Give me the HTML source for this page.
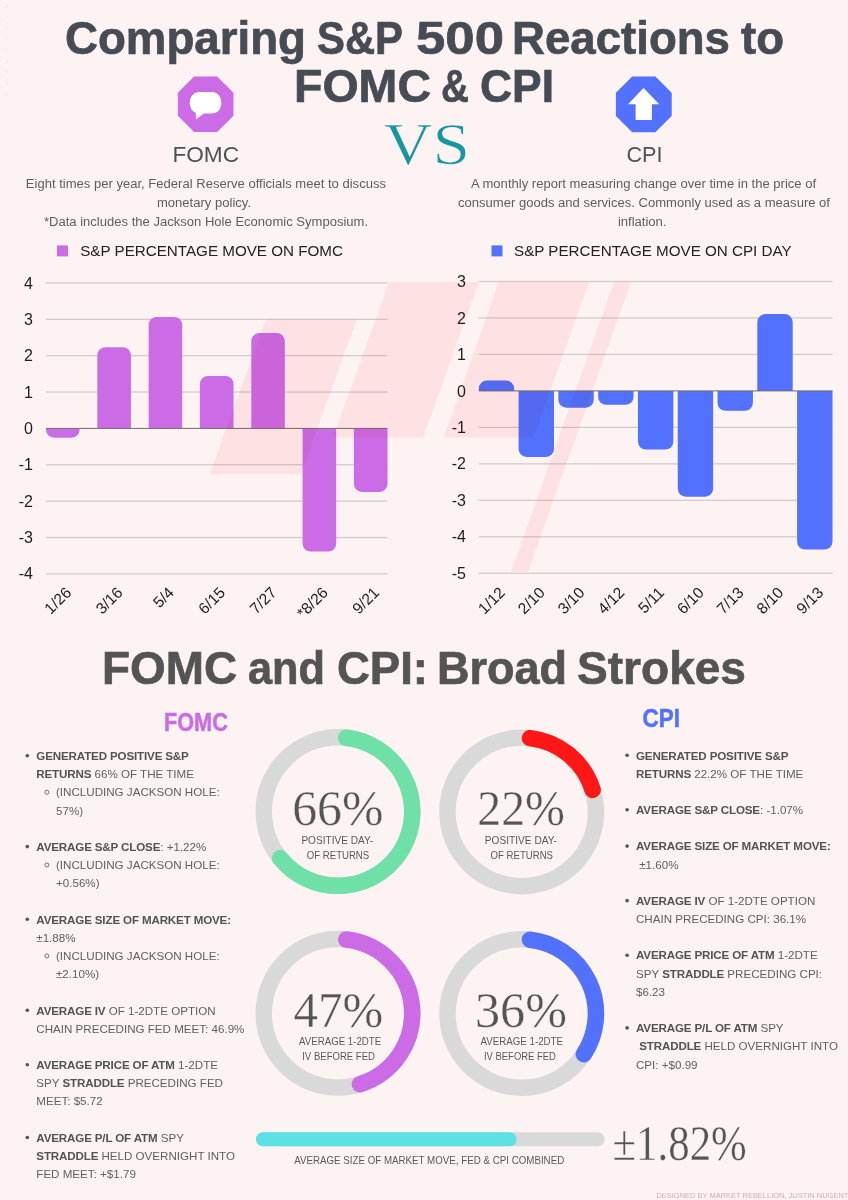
<!DOCTYPE html>
<html><head><meta charset="utf-8"><title>Comparing S&amp;P 500 Reactions to FOMC &amp; CPI</title>
<style>
html,body{margin:0;padding:0;background:#FDF3F2;}
body{width:848px;height:1200px;overflow:hidden;position:relative;font-family:"Liberation Sans",sans-serif;}
svg{position:absolute;left:0;top:0;display:block}
text{font-family:"Liberation Sans",sans-serif}
.serif{font-family:"Liberation Serif",serif}
</style></head><body>
<svg width="848" height="1200" viewBox="0 0 848 1200">
<rect width="848" height="1200" fill="#FDF3F2"/>

<text x="65.00" y="54.2" font-size="46.5" font-weight="700" fill="#474C54" stroke="#474C54" stroke-width="0.7" textLength="241.00" lengthAdjust="spacingAndGlyphs">Comparing</text>
<text x="317.00" y="54.2" font-size="46.5" font-weight="700" fill="#474C54" stroke="#474C54" stroke-width="0.7" textLength="86.00" lengthAdjust="spacingAndGlyphs">S&amp;P</text>
<text x="416.00" y="54.2" font-size="46.5" font-weight="700" fill="#474C54" stroke="#474C54" stroke-width="0.7" textLength="88.00" lengthAdjust="spacingAndGlyphs">500</text>
<text x="512.00" y="54.2" font-size="46.5" font-weight="700" fill="#474C54" stroke="#474C54" stroke-width="0.7" textLength="218.00" lengthAdjust="spacingAndGlyphs">Reactions</text>
<text x="741.00" y="54.2" font-size="46.5" font-weight="700" fill="#474C54" stroke="#474C54" stroke-width="0.7" textLength="43.00" lengthAdjust="spacingAndGlyphs">to</text>
<text x="294.00" y="102" font-size="46.5" font-weight="700" fill="#474C54" stroke="#474C54" stroke-width="0.7" textLength="137.00" lengthAdjust="spacingAndGlyphs">FOMC</text>
<text x="441.00" y="102" font-size="46.5" font-weight="700" fill="#474C54" stroke="#474C54" stroke-width="0.7" textLength="28.00" lengthAdjust="spacingAndGlyphs">&amp;</text>
<text x="480.00" y="102" font-size="46.5" font-weight="700" fill="#474C54" stroke="#474C54" stroke-width="0.7" textLength="74.00" lengthAdjust="spacingAndGlyphs">CPI</text>
<text x="102.00" y="684.4" font-size="46.5" font-weight="700" fill="#545454" stroke="#545454" stroke-width="0.7" textLength="135.00" lengthAdjust="spacingAndGlyphs">FOMC</text>
<text x="248.00" y="684.4" font-size="46.5" font-weight="700" fill="#545454" stroke="#545454" stroke-width="0.7" textLength="77.00" lengthAdjust="spacingAndGlyphs">and</text>
<text x="337.00" y="684.4" font-size="46.5" font-weight="700" fill="#545454" stroke="#545454" stroke-width="0.7" textLength="91.00" lengthAdjust="spacingAndGlyphs">CPI:</text>
<text x="437.00" y="684.4" font-size="46.5" font-weight="700" fill="#545454" stroke="#545454" stroke-width="0.7" textLength="130.00" lengthAdjust="spacingAndGlyphs">Broad</text>
<text x="577.00" y="684.4" font-size="46.5" font-weight="700" fill="#545454" stroke="#545454" stroke-width="0.7" textLength="169.00" lengthAdjust="spacingAndGlyphs">Strokes</text>
<polygon points="194.1,76.4 217.2,76.4 233.5,92.7 233.5,115.8 217.2,132.1 194.1,132.1 177.8,115.8 177.8,92.7" fill="#CB6CE6"/>
<path d="M199.5,92 H211.6 C217.5,92 221.3,96.6 221.3,102.8 C221.3,109 217.5,113.6 211.6,113.6 H199.5 C193.6,113.6 189.8,109 189.8,102.8 C189.8,96.6 193.6,92 199.5,92 Z" fill="#fff"/>
<polygon points="195.6,109 196,119.6 204.5,113" fill="#fff"/>
<polygon points="632.2,76.4 655.4,76.4 671.7,92.7 671.7,115.9 655.4,132.2 632.2,132.2 615.9,115.9 615.9,92.7" fill="#5271FF"/>
<polygon points="643.6,88 659.2,104.2 651.9,104.2 651.9,119.9 635.6,119.9 635.6,104.2 628,104.2" fill="#fff"/>
<text x="172.40" y="161.7" font-size="22.3" fill="#4D5157" textLength="66.60" lengthAdjust="spacingAndGlyphs">FOMC</text>
<text x="626.40" y="161.5" font-size="22.3" fill="#4D5157" textLength="36.00" lengthAdjust="spacingAndGlyphs">CPI</text>
<text class="serif" x="383.80" y="164.2" font-size="60" fill="#17969D" stroke="#FDF3F2" stroke-width="0.7" textLength="86.20" lengthAdjust="spacingAndGlyphs">VS</text>
<text x="205.9" y="188.1" text-anchor="middle" font-size="13.05" fill="#5E5E5E">Eight times per year, Federal Reserve officials meet to discuss</text>
<text x="204" y="206.8" text-anchor="middle" font-size="13.05" fill="#5E5E5E">monetary policy.</text>
<text x="206" y="225.6" text-anchor="middle" font-size="13.05" fill="#5E5E5E">*Data includes the Jackson Hole Economic Symposium.</text>
<text x="643.5" y="188.1" text-anchor="middle" font-size="13.05" fill="#5E5E5E">A monthly report measuring change over time in the price of</text>
<text x="644" y="206.8" text-anchor="middle" font-size="13.05" fill="#5E5E5E">consumer goods and services. Commonly used as a measure of</text>
<text x="642.2" y="225.6" text-anchor="middle" font-size="13.05" fill="#5E5E5E">inflation.</text>
<rect x="6" y="4.5" width="2" height="2" fill="#F5EBEB"/>
<rect x="6" y="15.6" width="2" height="2" fill="#F5EBEB"/>
<rect x="6" y="26.7" width="2" height="2" fill="#F5EBEB"/>
<rect x="6" y="37.8" width="2" height="2" fill="#F5EBEB"/>
<rect x="6" y="48.9" width="2" height="2" fill="#F5EBEB"/>
<rect x="6" y="60.0" width="2" height="2" fill="#F5EBEB"/>
<rect x="6" y="71.1" width="2" height="2" fill="#F5EBEB"/>
<rect x="6" y="82.2" width="2" height="2" fill="#F5EBEB"/>
<rect x="6" y="93.3" width="2" height="2" fill="#F5EBEB"/>
<rect x="57" y="245.4" width="11" height="11" fill="#CB6CE6"/>
<text x="80.2" y="256.1" font-size="15.2" fill="#222">S&amp;P PERCENTAGE MOVE ON FOMC</text>
<rect x="491.5" y="245.4" width="11" height="11" fill="#5271FF"/>
<text x="514" y="256.1" font-size="15.2" fill="#222">S&amp;P PERCENTAGE MOVE ON CPI DAY</text>
<rect x="46" y="573.28" width="341.5" height="1.2" fill="#CFC9C9"/>
<text x="33" y="579.48" text-anchor="end" font-size="16" fill="#1E1E1E">-4</text>
<rect x="46" y="536.91" width="341.5" height="1.2" fill="#CFC9C9"/>
<text x="33" y="543.11" text-anchor="end" font-size="16" fill="#1E1E1E">-3</text>
<rect x="46" y="500.54" width="341.5" height="1.2" fill="#CFC9C9"/>
<text x="33" y="506.74" text-anchor="end" font-size="16" fill="#1E1E1E">-2</text>
<rect x="46" y="464.17" width="341.5" height="1.2" fill="#CFC9C9"/>
<text x="33" y="470.37" text-anchor="end" font-size="16" fill="#1E1E1E">-1</text>
<text x="33" y="434.00" text-anchor="end" font-size="16" fill="#1E1E1E">0</text>
<rect x="46" y="391.43" width="341.5" height="1.2" fill="#CFC9C9"/>
<text x="33" y="397.63" text-anchor="end" font-size="16" fill="#1E1E1E">1</text>
<rect x="46" y="355.06" width="341.5" height="1.2" fill="#CFC9C9"/>
<text x="33" y="361.26" text-anchor="end" font-size="16" fill="#1E1E1E">2</text>
<rect x="46" y="318.69" width="341.5" height="1.2" fill="#CFC9C9"/>
<text x="33" y="324.89" text-anchor="end" font-size="16" fill="#1E1E1E">3</text>
<rect x="46" y="282.32" width="341.5" height="1.2" fill="#CFC9C9"/>
<text x="33" y="288.52" text-anchor="end" font-size="16" fill="#1E1E1E">4</text>
<path d="M46.00,428.40 V429.71 A8.00,8.00 0 0 0 54.00,437.71 H71.60 A8.00,8.00 0 0 0 79.60,429.71 V428.40 Z" fill="#CB6CE6"/>
<text transform="translate(72.3,593.5) rotate(-45)" text-anchor="end" font-size="15.6" fill="#1E1E1E">1/26</text>
<path d="M97.32,428.40 V355.19 A8.00,8.00 0 0 1 105.32,347.19 H122.92 A8.00,8.00 0 0 1 130.92,355.19 V428.40 Z" fill="#CB6CE6"/>
<text transform="translate(123.6,593.5) rotate(-45)" text-anchor="end" font-size="15.6" fill="#1E1E1E">3/16</text>
<path d="M148.63,428.40 V325.00 A8.00,8.00 0 0 1 156.63,317.00 H174.23 A8.00,8.00 0 0 1 182.23,325.00 V428.40 Z" fill="#CB6CE6"/>
<text transform="translate(174.9,593.5) rotate(-45)" text-anchor="end" font-size="15.6" fill="#1E1E1E">5/4</text>
<path d="M199.95,428.40 V383.92 A8.00,8.00 0 0 1 207.95,375.92 H225.55 A8.00,8.00 0 0 1 233.55,383.92 V428.40 Z" fill="#CB6CE6"/>
<text transform="translate(226.2,593.5) rotate(-45)" text-anchor="end" font-size="15.6" fill="#1E1E1E">6/15</text>
<path d="M251.27,428.40 V341.11 A8.00,8.00 0 0 1 259.27,333.11 H276.87 A8.00,8.00 0 0 1 284.87,341.11 V428.40 Z" fill="#CB6CE6"/>
<text transform="translate(277.6,593.5) rotate(-45)" text-anchor="end" font-size="15.6" fill="#1E1E1E">7/27</text>
<path d="M302.58,428.40 V543.59 A8.00,8.00 0 0 0 310.58,551.59 H328.18 A8.00,8.00 0 0 0 336.18,543.59 V428.40 Z" fill="#CB6CE6"/>
<text transform="translate(328.9,593.5) rotate(-45)" text-anchor="end" font-size="15.6" fill="#1E1E1E">*8/26</text>
<path d="M353.90,428.40 V483.90 A8.00,8.00 0 0 0 361.90,491.90 H379.50 A8.00,8.00 0 0 0 387.50,483.90 V428.40 Z" fill="#CB6CE6"/>
<text transform="translate(380.2,593.5) rotate(-45)" text-anchor="end" font-size="15.6" fill="#1E1E1E">9/21</text>
<rect x="46" y="427.90" width="341.5" height="1" fill="#716C6C"/>
<rect x="478.8" y="572.67" width="353.7" height="1.2" fill="#CFC9C9"/>
<text x="466" y="578.88" text-anchor="end" font-size="16" fill="#1E1E1E">-5</text>
<rect x="478.8" y="536.20" width="353.7" height="1.2" fill="#CFC9C9"/>
<text x="466" y="542.40" text-anchor="end" font-size="16" fill="#1E1E1E">-4</text>
<rect x="478.8" y="499.72" width="353.7" height="1.2" fill="#CFC9C9"/>
<text x="466" y="505.93" text-anchor="end" font-size="16" fill="#1E1E1E">-3</text>
<rect x="478.8" y="463.25" width="353.7" height="1.2" fill="#CFC9C9"/>
<text x="466" y="469.45" text-anchor="end" font-size="16" fill="#1E1E1E">-2</text>
<rect x="478.8" y="426.77" width="353.7" height="1.2" fill="#CFC9C9"/>
<text x="466" y="432.98" text-anchor="end" font-size="16" fill="#1E1E1E">-1</text>
<text x="466" y="396.50" text-anchor="end" font-size="16" fill="#1E1E1E">0</text>
<rect x="478.8" y="353.82" width="353.7" height="1.2" fill="#CFC9C9"/>
<text x="466" y="360.02" text-anchor="end" font-size="16" fill="#1E1E1E">1</text>
<rect x="478.8" y="317.35" width="353.7" height="1.2" fill="#CFC9C9"/>
<text x="466" y="323.55" text-anchor="end" font-size="16" fill="#1E1E1E">2</text>
<rect x="478.8" y="280.87" width="353.7" height="1.2" fill="#CFC9C9"/>
<text x="466" y="287.07" text-anchor="end" font-size="16" fill="#1E1E1E">3</text>
<path d="M478.80,390.90 V388.58 A8.00,8.00 0 0 1 486.80,380.58 H506.20 A8.00,8.00 0 0 1 514.20,388.58 V390.90 Z" fill="#5271FF"/>
<text transform="translate(506.0,593.5) rotate(-45)" text-anchor="end" font-size="15.6" fill="#1E1E1E">1/12</text>
<path d="M518.59,390.90 V448.92 A8.00,8.00 0 0 0 526.59,456.92 H545.99 A8.00,8.00 0 0 0 553.99,448.92 V390.90 Z" fill="#5271FF"/>
<text transform="translate(545.8,593.5) rotate(-45)" text-anchor="end" font-size="15.6" fill="#1E1E1E">2/10</text>
<path d="M558.38,390.90 V399.68 A8.00,8.00 0 0 0 566.38,407.68 H585.77 A8.00,8.00 0 0 0 593.77,399.68 V390.90 Z" fill="#5271FF"/>
<text transform="translate(585.6,593.5) rotate(-45)" text-anchor="end" font-size="15.6" fill="#1E1E1E">3/10</text>
<path d="M598.16,390.90 V396.76 A8.00,8.00 0 0 0 606.16,404.76 H625.56 A8.00,8.00 0 0 0 633.56,396.76 V390.90 Z" fill="#5271FF"/>
<text transform="translate(625.4,593.5) rotate(-45)" text-anchor="end" font-size="15.6" fill="#1E1E1E">4/12</text>
<path d="M637.95,390.90 V441.62 A8.00,8.00 0 0 0 645.95,449.62 H665.35 A8.00,8.00 0 0 0 673.35,441.62 V390.90 Z" fill="#5271FF"/>
<text transform="translate(665.2,593.5) rotate(-45)" text-anchor="end" font-size="15.6" fill="#1E1E1E">5/11</text>
<path d="M677.74,390.90 V488.68 A8.00,8.00 0 0 0 685.74,496.68 H705.14 A8.00,8.00 0 0 0 713.14,488.68 V390.90 Z" fill="#5271FF"/>
<text transform="translate(704.9,593.5) rotate(-45)" text-anchor="end" font-size="15.6" fill="#1E1E1E">6/10</text>
<path d="M717.53,390.90 V402.82 A8.00,8.00 0 0 0 725.53,410.82 H744.93 A8.00,8.00 0 0 0 752.93,402.82 V390.90 Z" fill="#5271FF"/>
<text transform="translate(744.7,593.5) rotate(-45)" text-anchor="end" font-size="15.6" fill="#1E1E1E">7/13</text>
<path d="M757.31,390.90 V322.12 A8.00,8.00 0 0 1 765.31,314.12 H784.71 A8.00,8.00 0 0 1 792.71,322.12 V390.90 Z" fill="#5271FF"/>
<text transform="translate(784.5,593.5) rotate(-45)" text-anchor="end" font-size="15.6" fill="#1E1E1E">8/10</text>
<path d="M797.10,390.90 V541.57 A8.00,8.00 0 0 0 805.10,549.57 H824.50 A8.00,8.00 0 0 0 832.50,541.57 V390.90 Z" fill="#5271FF"/>
<text transform="translate(824.3,593.5) rotate(-45)" text-anchor="end" font-size="15.6" fill="#1E1E1E">9/13</text>
<rect x="478.8" y="390.40" width="353.7" height="1" fill="#716C6C"/>
<polygon points="266,319.3 357,319.3 300.5,474.3 209.5,474.3" fill="#FFEDF0" style="mix-blend-mode:multiply"/>
<polygon points="389,282 479,282 423,437.5 333,437.5" fill="#FFEDF0" style="mix-blend-mode:multiply"/>
<polygon points="499,282 589,282 533.5,437.5 443.5,437.5" fill="#FFEDF0" style="mix-blend-mode:multiply"/>
<polygon points="614,282 631,282 528,572 511,572" fill="#FFEDF0" style="mix-blend-mode:multiply"/>
<text x="164.00" y="730.8" font-size="25.4" font-weight="700" fill="#CB6CE6" stroke="#CB6CE6" stroke-width="0.5" textLength="63.80" lengthAdjust="spacingAndGlyphs">FOMC</text>
<text x="642.60" y="726.9" font-size="25.4" font-weight="700" fill="#5271FF" stroke="#5271FF" stroke-width="0.5" textLength="37.40" lengthAdjust="spacingAndGlyphs">CPI</text>
<circle cx="27.3" cy="755.70" r="1.8" fill="#535353"/>
<text x="36.3" y="760.00" font-size="11.6" fill="#535353" xml:space="preserve"><tspan font-weight="700" letter-spacing="-0.15">GENERATED POSITIVE S&amp;P</tspan></text>
<text x="36.3" y="778.18" font-size="11.6" fill="#535353" xml:space="preserve"><tspan font-weight="700" letter-spacing="-0.15">RETURNS</tspan><tspan fill="#606060"> 66% OF THE TIME</tspan></text>
<circle cx="46.9" cy="792.26" r="2.0" fill="none" stroke="#535353" stroke-width="0.8"/>
<text x="56" y="796.36" font-size="11.6" fill="#535353" xml:space="preserve"><tspan fill="#606060">(INCLUDING JACKSON HOLE:</tspan></text>
<text x="56" y="814.54" font-size="11.6" fill="#535353" xml:space="preserve"><tspan fill="#606060">57%)</tspan></text>
<circle cx="27.3" cy="846.60" r="1.8" fill="#535353"/>
<text x="36.3" y="850.90" font-size="11.6" fill="#535353" xml:space="preserve"><tspan font-weight="700" letter-spacing="-0.15">AVERAGE S&amp;P CLOSE</tspan><tspan fill="#606060">: +1.22%</tspan></text>
<circle cx="46.9" cy="864.98" r="2.0" fill="none" stroke="#535353" stroke-width="0.8"/>
<text x="56" y="869.08" font-size="11.6" fill="#535353" xml:space="preserve"><tspan fill="#606060">(INCLUDING JACKSON HOLE:</tspan></text>
<text x="56" y="887.26" font-size="11.6" fill="#535353" xml:space="preserve"><tspan fill="#606060">+0.56%)</tspan></text>
<circle cx="27.3" cy="919.32" r="1.8" fill="#535353"/>
<text x="36.3" y="923.62" font-size="11.6" fill="#535353" xml:space="preserve"><tspan font-weight="700" letter-spacing="-0.15">AVERAGE SIZE OF MARKET MOVE:</tspan></text>
<text x="36.3" y="941.80" font-size="11.6" fill="#535353" xml:space="preserve"><tspan fill="#606060">±1.88%</tspan></text>
<circle cx="46.9" cy="955.88" r="2.0" fill="none" stroke="#535353" stroke-width="0.8"/>
<text x="56" y="959.98" font-size="11.6" fill="#535353" xml:space="preserve"><tspan fill="#606060">(INCLUDING JACKSON HOLE:</tspan></text>
<text x="56" y="978.16" font-size="11.6" fill="#535353" xml:space="preserve"><tspan fill="#606060">±2.10%)</tspan></text>
<circle cx="27.3" cy="1010.22" r="1.8" fill="#535353"/>
<text x="36.3" y="1014.52" font-size="11.6" fill="#535353" xml:space="preserve"><tspan font-weight="700" letter-spacing="-0.15">AVERAGE IV</tspan><tspan fill="#606060"> OF 1-2DTE OPTION</tspan></text>
<text x="36.3" y="1032.70" font-size="11.6" fill="#535353" xml:space="preserve"><tspan fill="#606060">CHAIN PRECEDING FED MEET: 46.9%</tspan></text>
<circle cx="27.3" cy="1064.76" r="1.8" fill="#535353"/>
<text x="36.3" y="1069.06" font-size="11.6" fill="#535353" xml:space="preserve"><tspan font-weight="700" letter-spacing="-0.15">AVERAGE PRICE OF ATM</tspan><tspan fill="#606060"> 1-2DTE</tspan></text>
<text x="36.3" y="1087.24" font-size="11.6" fill="#535353" xml:space="preserve"><tspan fill="#606060">SPY </tspan><tspan font-weight="700" letter-spacing="-0.15">STRADDLE</tspan><tspan fill="#606060"> PRECEDING FED</tspan></text>
<text x="36.3" y="1105.42" font-size="11.6" fill="#535353" xml:space="preserve"><tspan fill="#606060">MEET: $5.72</tspan></text>
<circle cx="27.3" cy="1137.48" r="1.8" fill="#535353"/>
<text x="36.3" y="1141.78" font-size="11.6" fill="#535353" xml:space="preserve"><tspan font-weight="700" letter-spacing="-0.15">AVERAGE P/L OF ATM</tspan><tspan fill="#606060"> SPY</tspan></text>
<text x="36.3" y="1159.96" font-size="11.6" fill="#535353" xml:space="preserve"><tspan font-weight="700" letter-spacing="-0.15">STRADDLE</tspan><tspan fill="#606060"> HELD OVERNIGHT INTO</tspan></text>
<text x="36.3" y="1178.14" font-size="11.6" fill="#535353" xml:space="preserve"><tspan fill="#606060">FED MEET: +$1.79</tspan></text>
<circle cx="627.1" cy="755.20" r="1.8" fill="#535353"/>
<text x="636" y="759.50" font-size="11.6" fill="#535353" xml:space="preserve"><tspan font-weight="700" letter-spacing="-0.15">GENERATED POSITIVE S&amp;P</tspan></text>
<text x="636" y="777.68" font-size="11.6" fill="#535353" xml:space="preserve"><tspan font-weight="700" letter-spacing="-0.15">RETURNS</tspan><tspan fill="#606060"> 22.2% OF THE TIME</tspan></text>
<circle cx="627.1" cy="809.74" r="1.8" fill="#535353"/>
<text x="636" y="814.04" font-size="11.6" fill="#535353" xml:space="preserve"><tspan font-weight="700" letter-spacing="-0.15">AVERAGE S&amp;P CLOSE</tspan><tspan fill="#606060">: -1.07%</tspan></text>
<circle cx="627.1" cy="846.10" r="1.8" fill="#535353"/>
<text x="636" y="850.40" font-size="11.6" fill="#535353" xml:space="preserve"><tspan font-weight="700" letter-spacing="-0.15">AVERAGE SIZE OF MARKET MOVE:</tspan></text>
<text x="636" y="868.58" font-size="11.6" fill="#535353" xml:space="preserve"><tspan fill="#606060"> ±1.60%</tspan></text>
<circle cx="627.1" cy="900.64" r="1.8" fill="#535353"/>
<text x="636" y="904.94" font-size="11.6" fill="#535353" xml:space="preserve"><tspan font-weight="700" letter-spacing="-0.15">AVERAGE IV</tspan><tspan fill="#606060"> OF 1-2DTE OPTION</tspan></text>
<text x="636" y="923.12" font-size="11.6" fill="#535353" xml:space="preserve"><tspan fill="#606060">CHAIN PRECEDING CPI: 36.1%</tspan></text>
<circle cx="627.1" cy="955.18" r="1.8" fill="#535353"/>
<text x="636" y="959.48" font-size="11.6" fill="#535353" xml:space="preserve"><tspan font-weight="700" letter-spacing="-0.15">AVERAGE PRICE OF ATM</tspan><tspan fill="#606060"> 1-2DTE</tspan></text>
<text x="636" y="977.66" font-size="11.6" fill="#535353" xml:space="preserve"><tspan fill="#606060">SPY </tspan><tspan font-weight="700" letter-spacing="-0.15">STRADDLE</tspan><tspan fill="#606060"> PRECEDING CPI:</tspan></text>
<text x="636" y="995.84" font-size="11.6" fill="#535353" xml:space="preserve"><tspan fill="#606060">$6.23</tspan></text>
<circle cx="627.1" cy="1027.90" r="1.8" fill="#535353"/>
<text x="636" y="1032.20" font-size="11.6" fill="#535353" xml:space="preserve"><tspan font-weight="700" letter-spacing="-0.15">AVERAGE P/L OF ATM</tspan><tspan fill="#606060"> SPY</tspan></text>
<text x="636" y="1050.38" font-size="11.6" fill="#535353" xml:space="preserve"><tspan fill="#606060"> </tspan><tspan font-weight="700" letter-spacing="-0.15">STRADDLE</tspan><tspan fill="#606060"> HELD OVERNIGHT INTO</tspan></text>
<text x="636" y="1068.56" font-size="11.6" fill="#535353" xml:space="preserve"><tspan fill="#606060">CPI: +$0.99</tspan></text>
<circle cx="338" cy="811.6" r="74.25" fill="none" stroke="#D9D9D9" stroke-width="16.5"/>
<path d="M346.23,737.81 A74.25,74.25 0 1 1 280.11,858.09" fill="none" stroke="#6EE0A8" stroke-width="16.5" stroke-linecap="round"/>
<text class="serif" x="292.20" y="824.5" font-size="51" fill="#555555" stroke="#FDF3F2" stroke-width="0.35" textLength="91.40" lengthAdjust="spacingAndGlyphs">66%</text>
<text x="301.40" y="843.5" font-size="10.2" fill="#5A5A5A" textLength="71.80" lengthAdjust="spacingAndGlyphs">POSITIVE DAY-</text>
<text x="306.80" y="859.1" font-size="10.2" fill="#5A5A5A" textLength="62.40" lengthAdjust="spacingAndGlyphs">OF RETURNS</text>
<circle cx="521.7" cy="811.9" r="74.25" fill="none" stroke="#D9D9D9" stroke-width="16.5"/>
<path d="M529.93,738.11 A74.25,74.25 0 0 1 592.64,789.99" fill="none" stroke="#FF1616" stroke-width="16.5" stroke-linecap="round"/>
<text class="serif" x="477.20" y="824.7" font-size="51" fill="#555555" stroke="#FDF3F2" stroke-width="0.35" textLength="87.80" lengthAdjust="spacingAndGlyphs">22%</text>
<text x="484.80" y="843.5" font-size="10.2" fill="#5A5A5A" textLength="72.20" lengthAdjust="spacingAndGlyphs">POSITIVE DAY-</text>
<text x="490.60" y="858.9" font-size="10.2" fill="#5A5A5A" textLength="62.40" lengthAdjust="spacingAndGlyphs">OF RETURNS</text>
<circle cx="338" cy="1013.3" r="74.25" fill="none" stroke="#D9D9D9" stroke-width="16.5"/>
<path d="M346.23,939.51 A74.25,74.25 0 0 1 359.91,1084.24" fill="none" stroke="#CB6CE6" stroke-width="16.5" stroke-linecap="round"/>
<text class="serif" x="293.60" y="1026.7" font-size="51" fill="#555555" stroke="#FDF3F2" stroke-width="0.35" textLength="89.60" lengthAdjust="spacingAndGlyphs">47%</text>
<text x="299.00" y="1045.1" font-size="10.0" fill="#5A5A5A" textLength="82.20" lengthAdjust="spacingAndGlyphs">AVERAGE 1-2DTE</text>
<text x="302.20" y="1060.4" font-size="10.0" fill="#5A5A5A" textLength="72.80" lengthAdjust="spacingAndGlyphs">IV BEFORE FED</text>
<circle cx="521.7" cy="1013.5" r="74.25" fill="none" stroke="#D9D9D9" stroke-width="16.5"/>
<path d="M529.93,939.71 A74.25,74.25 0 0 1 583.81,1054.19" fill="none" stroke="#5271FF" stroke-width="16.5" stroke-linecap="round"/>
<text class="serif" x="475.00" y="1027.2" font-size="51" fill="#555555" stroke="#FDF3F2" stroke-width="0.35" textLength="92.00" lengthAdjust="spacingAndGlyphs">36%</text>
<text x="480.60" y="1045.1" font-size="10.0" fill="#5A5A5A" textLength="82.40" lengthAdjust="spacingAndGlyphs">AVERAGE 1-2DTE</text>
<text x="484.00" y="1060.4" font-size="10.0" fill="#5A5A5A" textLength="71.80" lengthAdjust="spacingAndGlyphs">IV BEFORE FED</text>
<rect x="256" y="1132.3" width="348.5" height="14" rx="7" fill="#D9D9D9"/>
<rect x="256" y="1132.3" width="260.5" height="14" rx="7" fill="#5CE1E6"/>
<text x="429.2" y="1164.3" text-anchor="middle" font-size="10.1" fill="#5A5A5A" textLength="270" lengthAdjust="spacingAndGlyphs">AVERAGE SIZE OF MARKET MOVE, FED &amp; CPI COMBINED</text>
<text class="serif" x="612.60" y="1159.7" font-size="51" fill="#555555" stroke="#FDF3F2" stroke-width="0.35" textLength="134.20" lengthAdjust="spacingAndGlyphs">±1.82%</text>
<text x="656.4" y="1198.3" font-size="7.8" fill="#D3A9B2" textLength="192" lengthAdjust="spacingAndGlyphs">DESIGNED BY MARKET REBELLION, JUSTIN NUGENT</text>
</svg></body></html>
